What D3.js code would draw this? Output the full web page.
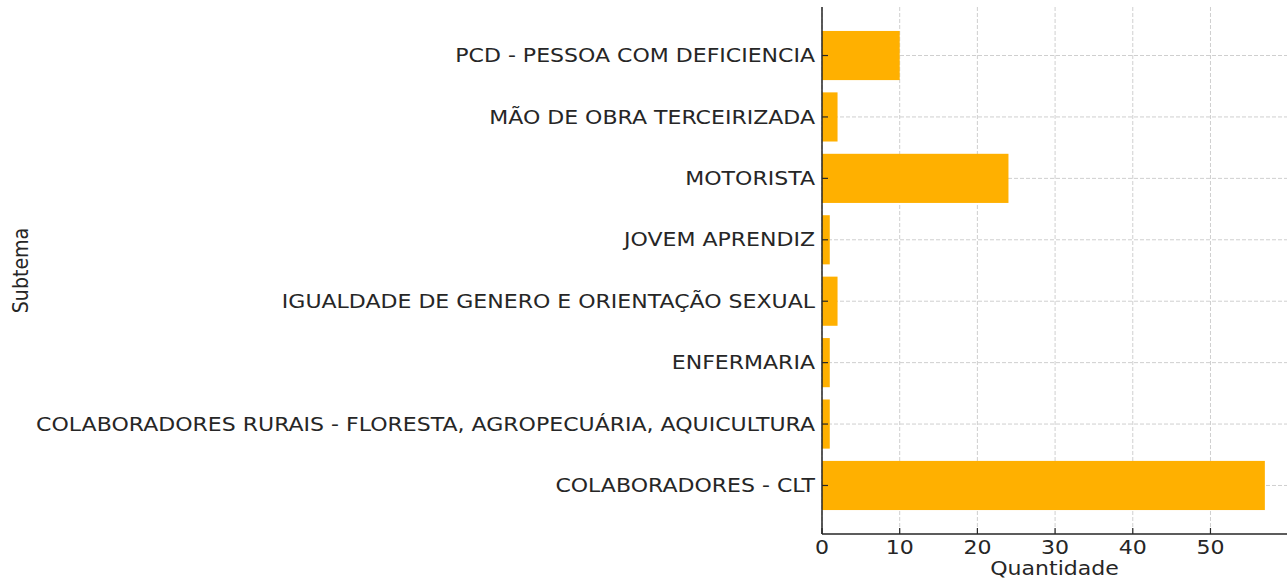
<!DOCTYPE html>
<html>
<head>
<meta charset="utf-8">
<script src="https://cdn.jsdelivr.net/npm/d3@7"></script>
<style>
  body { margin: 0; background: #fff; }
  svg { display: block; }
  text { font-family: "DejaVu Sans", sans-serif; fill: #262626; }
</style>
</head>
<body>
<svg id="chart" width="1287" height="579"></svg>
<script>
'use strict';

// categories, bottom to top as in the picture
var aSubtemas = [
  'COLABORADORES - CLT',
  'COLABORADORES RURAIS - FLORESTA, AGROPECUÁRIA, AQUICULTURA',
  'ENFERMARIA',
  'IGUALDADE DE GENERO E ORIENTAÇÃO SEXUAL',
  'JOVEM APRENDIZ',
  'MOTORISTA',
  'MÃO DE OBRA TERCEIRIZADA',
  'PCD - PESSOA COM DEFICIENCIA'
];
var aQuantidade = [57, 1, 1, 2, 1, 24, 2, 10];
var aTicksX = [0, 10, 20, 30, 40, 50];

var sSvg = d3.select('#chart');
var nStretch = 1.16;   // picture is stretched sideways
var nFont = 19;

var rPlot = {left: 822, right: 1287, top: 7, bottom: 534};

var nMax = d3.max(aQuantidade);
var scaleX = d3.scaleLinear()
  .domain([0, nMax * 1.05])
  .range([rPlot.left, rPlot.right]);

// matplotlib style: bar height 0.8 of a step, margins 0.05
var nN = aSubtemas.length;
var scaleY = d3.scaleLinear()
  .domain([-0.4 - 0.05 * (nN - 0.2), nN - 0.6 + 0.05 * (nN - 0.2)])
  .range([rPlot.bottom, rPlot.top]);
var nStep = Math.abs(scaleY(1) - scaleY(0));

// grid
var sGrid = sSvg.append('g').attr('class', 'grid');
sGrid.selectAll('line.gx')
  .data(aTicksX)
  .enter().append('line')
    .attr('x1', function(d) { return scaleX(d); })
    .attr('x2', function(d) { return scaleX(d); })
    .attr('y1', rPlot.top)
    .attr('y2', rPlot.bottom)
    .attr('stroke', '#cfcfcf')
    .attr('stroke-width', 1)
    .attr('stroke-dasharray', '4,2');
sGrid.selectAll('line.gy')
  .data(aSubtemas)
  .enter().append('line')
    .attr('x1', rPlot.left)
    .attr('x2', rPlot.right)
    .attr('y1', function(d, i) { return scaleY(i); })
    .attr('y2', function(d, i) { return scaleY(i); })
    .attr('stroke', '#cfcfcf')
    .attr('stroke-width', 1)
    .attr('stroke-dasharray', '4,2');

// bars
sSvg.append('g').selectAll('rect')
  .data(aQuantidade)
  .enter().append('rect')
    .attr('x', scaleX(0))
    .attr('y', function(d, i) { return scaleY(i) - nStep * 0.4; })
    .attr('width', function(d) { return scaleX(d) - scaleX(0); })
    .attr('height', nStep * 0.8)
    .attr('fill', '#ffb000');

// spines
sSvg.append('line')
  .attr('x1', rPlot.left).attr('x2', rPlot.left)
  .attr('y1', rPlot.top).attr('y2', rPlot.bottom)
  .attr('stroke', '#262626').attr('stroke-width', 1.5);
sSvg.append('line')
  .attr('x1', rPlot.left).attr('x2', rPlot.right)
  .attr('y1', rPlot.bottom).attr('y2', rPlot.bottom)
  .attr('stroke', '#262626').attr('stroke-width', 1.5);

// y ticks (inward) and labels
var sYTicks = sSvg.append('g').selectAll('g')
  .data(aSubtemas)
  .enter().append('g')
    .attr('transform', function(d, i) { return 'translate(' + rPlot.left + ',' + scaleY(i) + ')'; });
sYTicks.append('line')
  .attr('x1', 0).attr('x2', 6)
  .attr('stroke', '#262626').attr('stroke-width', 1.2);
sYTicks.append('text')
  .attr('transform', 'translate(-7,0) scale(' + nStretch + ',1)')
  .attr('dy', '0.35em')
  .attr('text-anchor', 'end')
  .style('font-size', nFont + 'px')
  .text(function(d) { return d; });

// x ticks and labels
var sXTicks = sSvg.append('g').selectAll('g')
  .data(aTicksX)
  .enter().append('g')
    .attr('transform', function(d) { return 'translate(' + scaleX(d) + ',' + rPlot.bottom + ')'; });
sXTicks.append('line')
  .attr('y1', 0).attr('y2', -6)
  .attr('stroke', '#262626').attr('stroke-width', 1.2);
sXTicks.append('text')
  .attr('transform', 'translate(0,20) scale(' + nStretch + ',1)')
  .attr('text-anchor', 'middle')
  .style('font-size', nFont + 'px')
  .text(function(d) { return d; });

// axis titles
sSvg.append('text')
  .attr('transform', 'translate(' + ((rPlot.left + rPlot.right) / 2) + ',575) scale(' + nStretch + ',1)')
  .attr('text-anchor', 'middle')
  .style('font-size', nFont + 'px')
  .text('Quantidade');
sSvg.append('text')
  .attr('transform', 'translate(28,' + ((rPlot.top + rPlot.bottom) / 2) + ') scale(' + nStretch + ',1) rotate(-90)')
  .attr('text-anchor', 'middle')
  .style('font-size', nFont + 'px')
  .text('Subtema');
</script>
</body>
</html>
